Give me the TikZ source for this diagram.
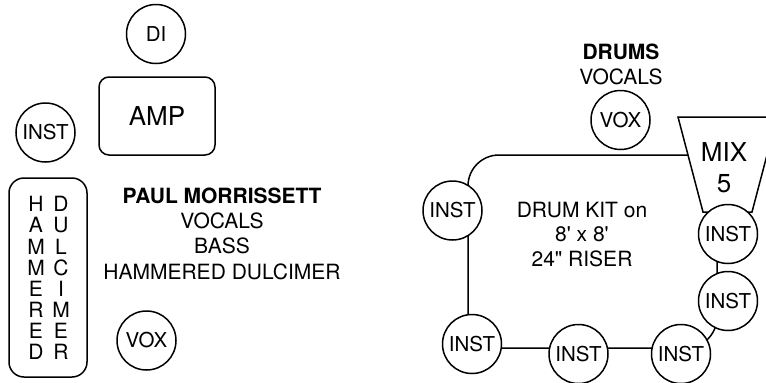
\documentclass[tikz,border=0pt]{standalone}
\usepackage{fontspec}
\setmainfont{TeX Gyre Heros}

\begin{document}
\begin{tikzpicture}[x=1pt,y=-1pt,line width=1.5pt,
    every node/.append style={font=\fontsize{21}{25}\selectfont}]

      \useasboundingbox (0,0) rectangle (766,383);

      % Riser and mixer
      \node[draw,rounded corners=31pt,minimum width=249pt,minimum height=193pt] (riser) at (592.5,251.5) {};
      \draw[fill=white] (678,117) -- (777,117) -- (752,212) -- (703,212) -- cycle;

      % Boxes
      \begin{scope}[every node/.style={draw,inner sep=0pt}]
        \node[rounded corners=10pt,minimum width=116pt,minimum height=78pt,
          font=\fontsize{26}{30}\selectfont] (02) at (157,116) {AMP};
        \node[rounded corners=15pt,minimum width=78pt,minimum height=199pt] (04) at (48,277.5) {};
      \end{scope}

      % Nodes
      \begin{scope}[every node/.style={circle,draw,fill=white,minimum size=59pt,inner sep=0pt,
          font=\fontsize{20.5}{24}\selectfont}]
        \node (01) at (156,34) {DI};
        \node (03) at (45.5,132.5) {INST};
        \node (05) at (146.5,340.5) {VOX};

        \node (11) at (620.5,120) {VOX};
        \node (12) at (452.5,210.5) {INST};
        \node (13) at (472,344) {INST};
        \node (14) at (578.5,354) {INST};
        \node (15) at (681,354) {INST};
        \node (16) at (728,301) {INST};
        \node (17) at (728,234) {INST};
      \end{scope}

      % Labels
      \begin{scope}[every node/.style={align=center,inner sep=0pt}]
        \node[font=\fontsize{21}{21.1}\selectfont] (07) at (36,278) {H\\A\\M\\M\\E\\R\\E\\D};
        \node[font=\fontsize{21}{21.1}\selectfont] (08) at (61,278) {D\\U\\L\\C\\I\\M\\E\\R};
        \node[font=\fontsize{21}{25.3}\selectfont] (06) at (222,233.5)
          {\textbf{PAUL MORRISSETT}\\VOCALS\\BASS\\HAMMERED DULCIMER};

        \node[font=\fontsize{21}{25}\selectfont] (10) at (621,64.5) {\textbf{DRUMS}\\VOCALS};
        \node[font=\fontsize{21}{24.5}\selectfont] (19) at (582,234.5)
          {DRUM KIT on\\8\textquotesingle{} x 8\textquotesingle\\24\textquotedbl{} RISER};
        \node[font=\fontsize{26}{31}\selectfont] (18) at (724,168) {MIX\\5};
      \end{scope}

    \end{tikzpicture}
\end{document}
